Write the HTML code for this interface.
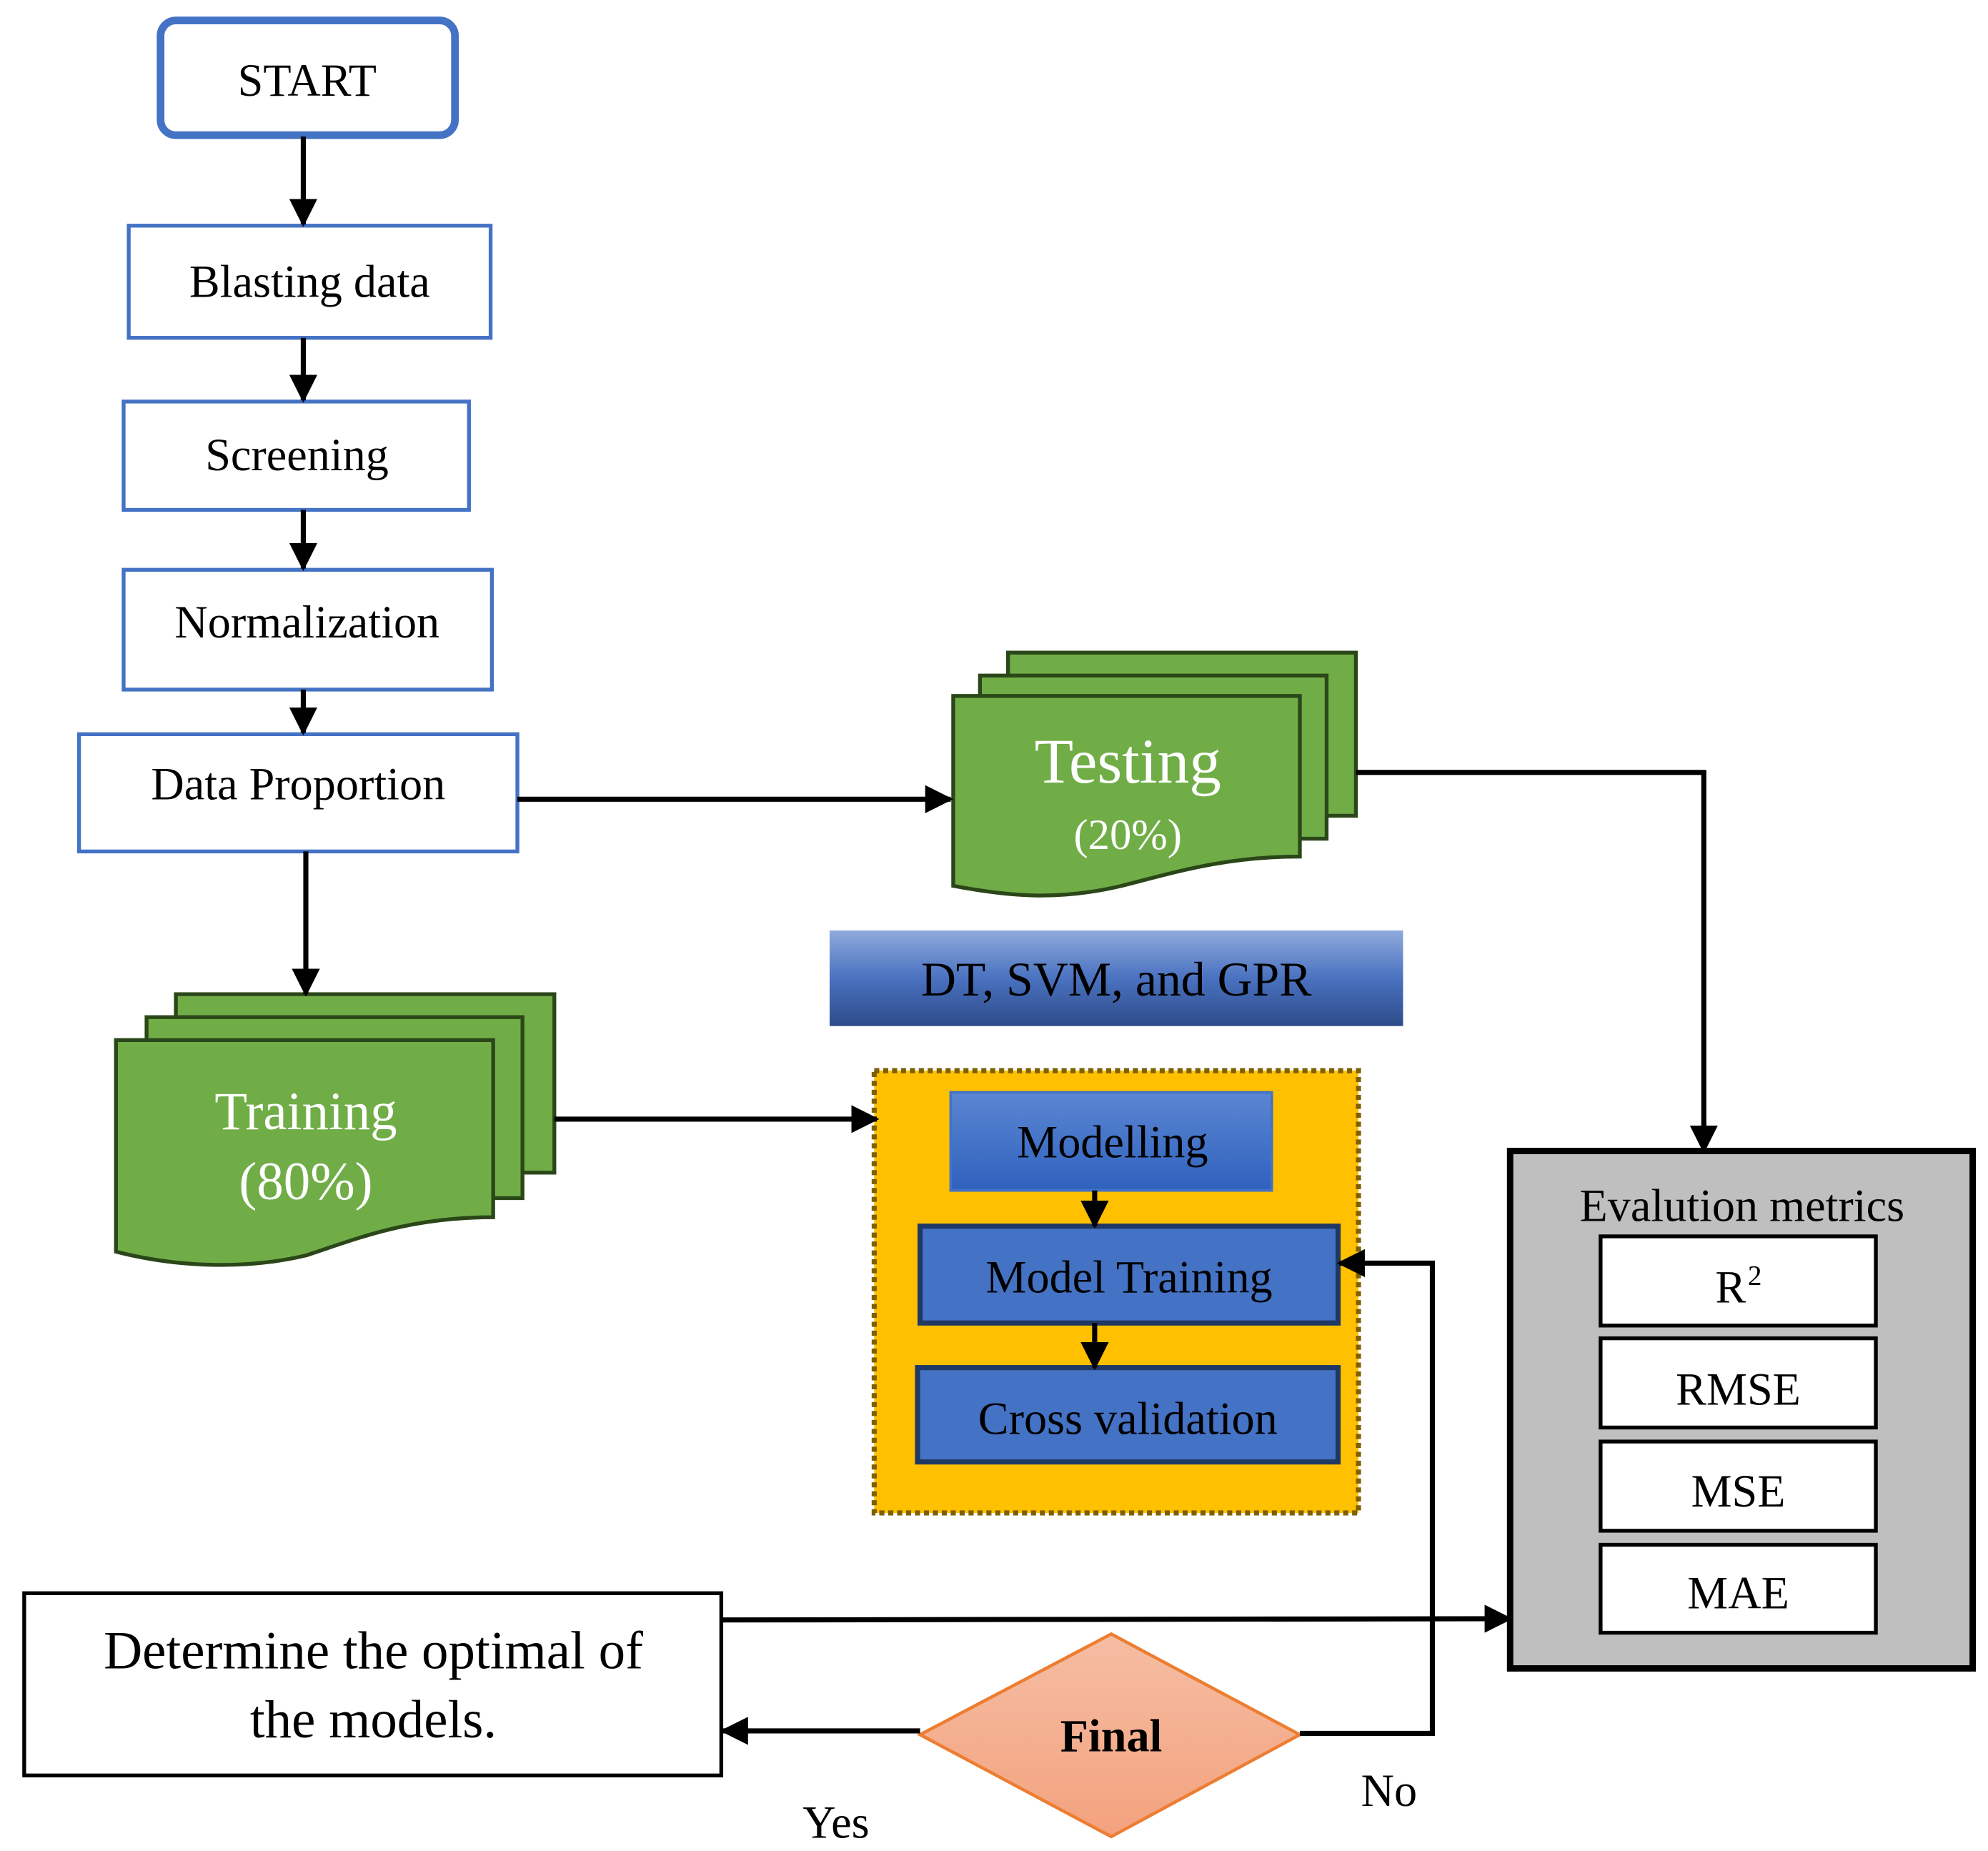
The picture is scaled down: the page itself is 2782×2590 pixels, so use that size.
<!DOCTYPE html>
<html><head><meta charset="utf-8"><style>html,body{margin:0;padding:0;background:#fff}svg{display:block}</style></head>
<body>
<svg width="2782" height="2590" viewBox="0 0 1560 1452.2" xmlns="http://www.w3.org/2000/svg" font-family="Liberation Serif, serif">
<defs>
<marker id="b" markerWidth="22" markerHeight="22" refX="20" refY="11" orient="auto" markerUnits="userSpaceOnUse" viewBox="0 0 22 22"><path d="M0,0 L22,11 L0,22 Z" fill="#000"/></marker>
<linearGradient id="g1" x1="0" y1="0" x2="0" y2="1"><stop offset="0" stop-color="#8FAADC"/><stop offset="0.5" stop-color="#4A72C0"/><stop offset="1" stop-color="#2E4C8A"/></linearGradient>
<linearGradient id="g2" x1="0" y1="0" x2="0" y2="1"><stop offset="0" stop-color="#5B86D2"/><stop offset="1" stop-color="#2F62BE"/></linearGradient>
<linearGradient id="g3" x1="0" y1="0" x2="0" y2="1"><stop offset="0" stop-color="#F5BDA3"/><stop offset="1" stop-color="#F4A27E"/></linearGradient>
</defs>
<g fill="#fff" stroke="#4472C4" stroke-width="3">
<rect x="126" y="16" width="231" height="90" rx="12" stroke-width="6"/>
<rect x="101" y="177" width="284" height="88"/>
<rect x="97" y="315" width="271" height="85"/>
<rect x="97" y="447" width="289" height="94"/>
<rect x="62" y="576" width="344" height="92"/>
</g>
<g font-size="36" text-anchor="middle" fill="#000">
<text x="241" y="75">START</text>
<text x="243" y="233">Blasting data</text>
<text x="233" y="369">Screening</text>
<text x="241" y="500">Normalization</text>
<text x="234" y="627">Data Proportion</text>
</g>
<g fill="#70AD47" stroke="#2B4719" stroke-width="3">
<rect x="138" y="780" width="297" height="140"/>
<rect x="115" y="798" width="295" height="142"/>
<path d="M91,816 H387 V955 C320,955 280,972 240,985 C185,998 130,992 91,982 Z"/>
<rect x="791" y="512" width="273" height="128"/>
<rect x="769" y="530" width="272" height="128"/>
<path d="M748,546 H1020 V672 C960,672 920,685 880,695 C830,707 790,703 748,695 Z"/>
</g>
<g fill="#fff" text-anchor="middle">
<text x="240" y="886" font-size="42">Training</text>
<text x="240" y="941" font-size="42">(80%)</text>
<text x="885" y="614" font-size="50">Testing</text>
<text x="885" y="666" font-size="34">(20%)</text>
</g>
<rect x="651" y="730" width="450" height="75" fill="url(#g1)"/>
<text x="876" y="781" font-size="38" text-anchor="middle">DT, SVM, and GPR</text>
<rect x="686" y="840" width="380" height="347" fill="#FFC000" stroke="#7F6000" stroke-width="4" stroke-dasharray="4,3"/>
<rect x="746" y="857" width="252" height="77" fill="url(#g2)" stroke="#4472C4" stroke-width="2"/>
<rect x="722" y="962" width="328" height="76" fill="#4472C4" stroke="#1F3864" stroke-width="4"/>
<rect x="720" y="1073" width="330" height="74" fill="#4472C4" stroke="#1F3864" stroke-width="4"/>
<g font-size="36" text-anchor="middle">
<text x="873" y="908">Modelling</text>
<text x="886" y="1014">Model Training</text>
<text x="885" y="1125">Cross validation</text>
</g>
<rect x="1185" y="903" width="363" height="406" fill="#BFBFBF" stroke="#000" stroke-width="5"/>
<text x="1367" y="958" font-size="36" text-anchor="middle">Evalution metrics</text>
<g fill="#fff" stroke="#000" stroke-width="3">
<rect x="1256" y="970" width="216" height="70"/>
<rect x="1256" y="1050" width="216" height="70"/>
<rect x="1256" y="1131" width="216" height="70"/>
<rect x="1256" y="1212" width="216" height="69"/>
</g>
<g font-size="36" text-anchor="middle">
<text x="1358" y="1022">R</text><text x="1377" y="1008" font-size="22">2</text>
<text x="1364" y="1102">RMSE</text>
<text x="1364" y="1182">MSE</text>
<text x="1364" y="1262">MAE</text>
</g>
<rect x="19" y="1250" width="547" height="143" fill="#fff" stroke="#000" stroke-width="3"/>
<text x="293" y="1309" font-size="42" text-anchor="middle">Determine the optimal of</text>
<text x="293" y="1363" font-size="42" text-anchor="middle">the models.</text>
<path d="M722,1361 L872,1282 L1020,1361 L872,1441 Z" fill="url(#g3)" stroke="#ED7D31" stroke-width="2.5"/>
<text x="872" y="1374" font-size="36" font-weight="bold" text-anchor="middle">Final</text>
<text x="1090" y="1417" font-size="36" text-anchor="middle">No</text>
<text x="656" y="1442" font-size="36" text-anchor="middle">Yes</text>
<g stroke="#000" stroke-width="4" fill="none" marker-end="url(#b)">
<line x1="238" y1="107" x2="238" y2="176"/>
<line x1="238" y1="265" x2="238" y2="314"/>
<line x1="238" y1="400" x2="238" y2="446"/>
<line x1="238" y1="541" x2="238" y2="575"/>
<line x1="406" y1="627" x2="746" y2="627"/>
<line x1="240" y1="668" x2="240" y2="780"/>
<line x1="435" y1="878" x2="688" y2="878"/>
<polyline points="1064,606 1337,606 1337,903"/>
<polyline points="566,1271 1185,1270"/>
<line x1="722" y1="1358" x2="567" y2="1358"/>
<polyline points="1020,1360 1124,1360 1124,991 1051,991"/>
<line x1="859" y1="934" x2="859" y2="962"/>
<line x1="859" y1="1038" x2="859" y2="1073"/>
</g>
</svg>
</body></html>
